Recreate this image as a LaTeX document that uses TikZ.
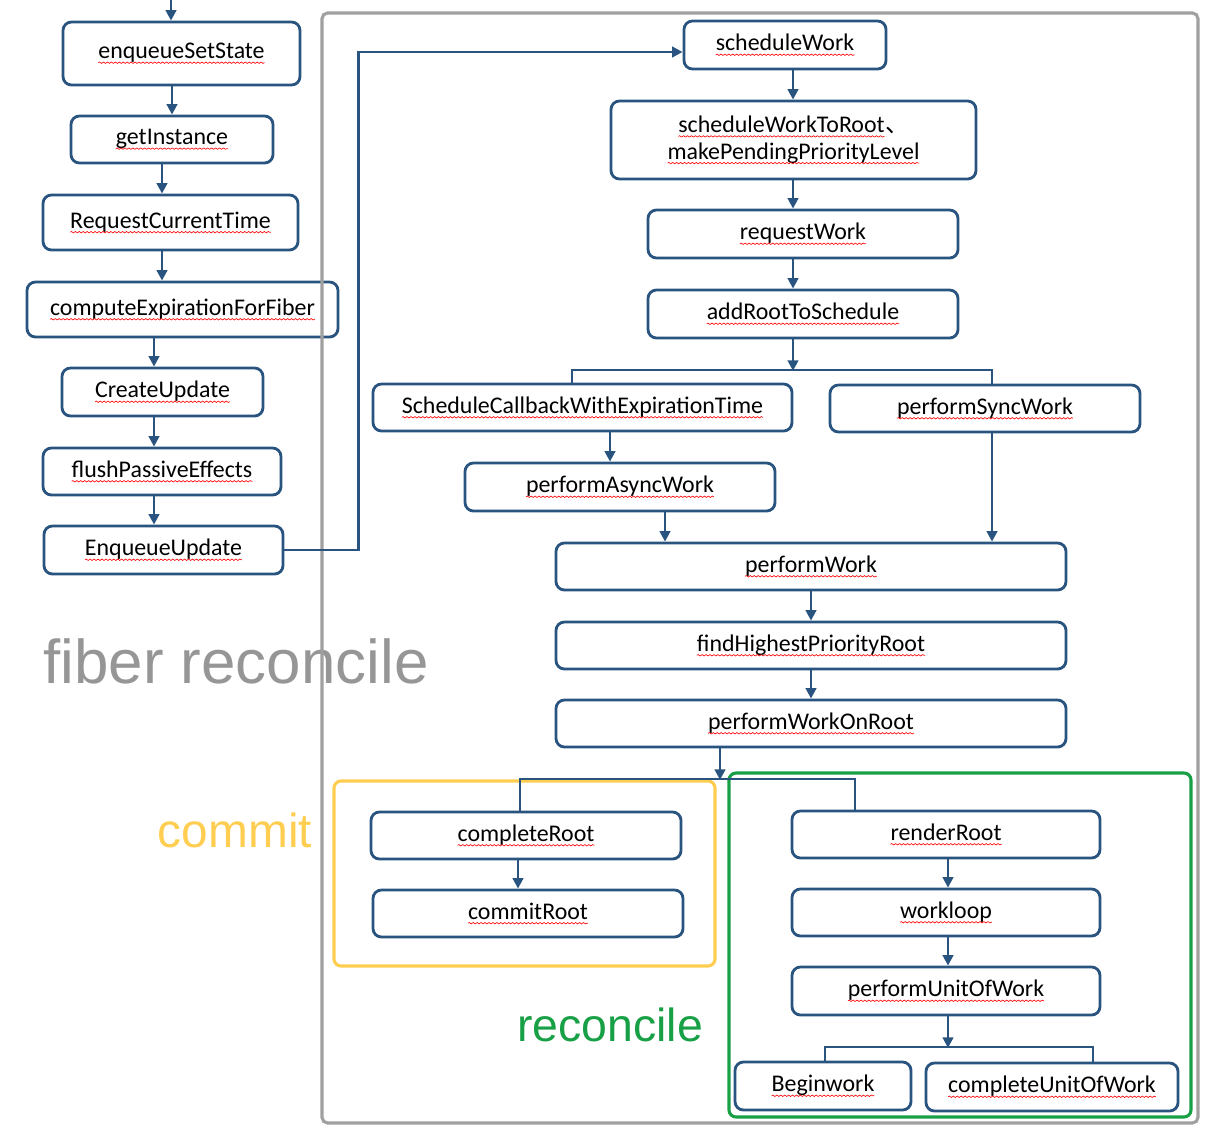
\documentclass[tikz,border=0pt]{standalone}
\usepackage{fontspec}
\setmainfont{Carlito}
\newfontfamily\labfont{Liberation Sans}
\newfontfamily\cjk{Noto Sans CJK SC}
\usetikzlibrary{arrows.meta,decorations.pathmorphing}
\definecolor{bx}{RGB}{42,84,128}
\definecolor{framegray}{RGB}{160,160,160}
\definecolor{labgray}{RGB}{150,150,150}
\definecolor{ylw}{RGB}{255,205,80}
\definecolor{grn}{RGB}{24,160,70}
\newcommand\wv[1]{\tikz[x=1cm,y=1cm,sharp corners,baseline=(w.base)]{\node[inner sep=0pt,outer sep=0pt,anchor=base,minimum size=0pt,draw=none,fill=none,text=black] (w) {#1};\draw[sharp corners,red,line width=0.45pt,decorate,decoration={snake,amplitude=0.5pt,segment length=2.8pt}] ([yshift=-2.8pt]w.base west) -- ([yshift=-2.8pt]w.base east);}}
\tikzset{
  box/.style={draw=bx, line width=2pt, rounded corners=6pt, fill=white, align=center, inner sep=0pt,
    font=\fontsize{17}{19}\selectfont},
  sz/.style 2 args={minimum width=#1*0.025cm, minimum height=#2*0.025cm},
  arr/.style={draw=bx, line width=2pt, -{Triangle[length=7.5pt,width=7.5pt]}},
  ln/.style={draw=bx, line width=2pt},
  grp/.style={line width=2.2pt, rounded corners=5pt},
}
\begin{document}
\begin{tikzpicture}[x=0.025cm,y=-0.025cm]
\useasboundingbox (0,0) rectangle (1207,1125);
% guides
\coordinate (top) at (171,0);
\coordinate (h52) at (0,52);
\coordinate (g162) at (162,0);
\coordinate (g154) at (154,0);
\coordinate (g793) at (793,0);
\coordinate (g572) at (572,0);
\coordinate (g992) at (992,0);
\coordinate (g610) at (610,0);
\coordinate (g665) at (665,0);
\coordinate (g720) at (720,0);
\coordinate (g520) at (520,0);
\coordinate (g855) at (855,0);
\coordinate (g518) at (518,0);
\coordinate (g948) at (948,0);
\coordinate (g825) at (825,0);
\coordinate (g1093) at (1093,0);
\coordinate (bar1) at (0,370);
\coordinate (bar2) at (0,779);
\coordinate (bar3) at (0,1047);

% group boxes
\draw[grp, draw=ylw] (334,781) rectangle (715,966);
\draw[grp, draw=grn] (729,773) rectangle (1191,1117);

% left column
\node[box, sz={237}{63}] (esst) at (181.5,53.5) {\wv{enqueueSetState}};
\node[box, sz={202}{47}] (gi) at (172,139.5) {\wv{getInstance}};
\node[box, sz={255}{55}] (rct) at (170.5,222.5) {\wv{RequestCurrentTime}};
\node[box, sz={311}{55}] (cef) at (182.5,309.5) {\wv{computeExpirationForFiber}};
\node[box, sz={201}{48}] (cu) at (162.5,392) {\wv{CreateUpdate}};
\node[box, sz={238}{47}] (fpe) at (162,471.5) {\wv{flushPassiveEffects}};
\node[box, sz={239}{48}] (eu) at (163.5,550) {\wv{EnqueueUpdate}};

\node[font=\labfont\fontsize{44}{46}\selectfont, text=labgray, anchor=base, inner sep=0pt] (lfr) at (236,683) {fiber reconcile};
\node[font=\labfont\fontsize{34}{36}\selectfont, text=ylw, anchor=base, inner sep=0pt] (lcm) at (235,847) {commit};
\node[font=\labfont\fontsize{33}{35}\selectfont, text=grn, anchor=base, inner sep=0pt] (lrc) at (610,1041) {reconcile};

% outer frame
\draw[framegray, line width=2.2pt, rounded corners=4pt] (322,13) rectangle (1198,1123);

% right column
\node[box, sz={202}{48}] (sw) at (785,45) {\wv{scheduleWork}};
\node[box, sz={365}{78}] (swr) at (793.5,140) {\wv{scheduleWorkToRoot}\cjk{、}\\\wv{makePendingPriorityLevel}};
\node[box, sz={310}{48}] (rw) at (803,234) {\wv{requestWork}};
\node[box, sz={310}{48}] (ars) at (803,314) {\wv{addRootToSchedule}};
\node[box, sz={419}{47}] (scb) at (582.5,407.5) {\wv{ScheduleCallbackWithExpirationTime}};
\node[box, sz={310}{47}] (psw) at (985,408.5) {\wv{performSyncWork}};
\node[box, sz={310}{48}] (paw) at (620,487) {\wv{performAsyncWork}};
\node[box, sz={510}{47}] (pw) at (811,566.5) {\wv{performWork}};
\node[box, sz={510}{47}] (fhp) at (811,645.5) {\wv{findHighestPriorityRoot}};
\node[box, sz={510}{47}] (pwr) at (811,723.5) {\wv{performWorkOnRoot}};
\node[box, sz={310}{47}] (cr) at (526,835.5) {\wv{completeRoot}};
\node[box, sz={310}{47}] (cmr) at (528,913.5) {\wv{commitRoot}};
\node[box, sz={308}{47}] (rr) at (946,834.5) {\wv{renderRoot}};
\node[box, sz={308}{47}] (wl) at (946,912.5) {\wv{workloop}};
\node[box, sz={308}{48}] (puw) at (946,991) {\wv{performUnitOfWork}};
\node[box, sz={176}{48}] (bw) at (823,1086) {\wv{Beginwork}};
\node[box, sz={252}{48}] (cuw) at (1052,1087) {\wv{completeUnitOfWork}};

% left connectors
\draw[arr] (top) -- (esst.north -| top);
\draw[arr] (esst.south -| gi.north) -- (gi.north);
\draw[arr] (gi.south -| g162) -- (rct.north -| g162);
\draw[arr] (rct.south -| g162) -- (cef.north -| g162);
\draw[arr] (cef.south -| g154) -- (cu.north -| g154);
\draw[arr] (cu.south -| g154) -- (fpe.north -| g154);
\draw[arr] (fpe.south -| g154) -- (eu.north -| g154);
\draw[arr] (eu.east) -- ++(74,0) |- (sw.west |- h52);

% right connectors
\draw[arr] (sw.south -| g793) -- (swr.north -| g793);
\draw[arr] (swr.south -| g793) -- (rw.north -| g793);
\draw[arr] (rw.south -| g793) -- (ars.north -| g793);
\draw[arr] (ars.south -| g793) -- ([yshift=-0.6pt]bar1 -| g793);
\draw[ln] (scb.north -| g572) |- (bar1 -| g992) -- (psw.north -| g992);
\draw[arr] (scb.south -| g610) -- (paw.north -| g610);
\draw[arr] (paw.south -| g665) -- (pw.north -| g665);
\draw[arr] (psw.south -| g992) -- (pw.north -| g992);
\draw[arr] (pw.south) -- (fhp.north);
\draw[arr] (fhp.south) -- (pwr.north);
\draw[arr] (pwr.south -| g720) -- ([yshift=-0.6pt]bar2 -| g720);
\draw[ln] (cr.north -| g520) |- (bar2 -| g855) -- (rr.north -| g855);
\draw[arr] (cr.south -| g518) -- (cmr.north -| g518);
\draw[arr] (rr.south -| g948) -- (wl.north -| g948);
\draw[arr] (wl.south -| g948) -- (puw.north -| g948);
\draw[arr] (puw.south -| g948) -- ([yshift=-0.6pt]bar3 -| g948);
\draw[ln] (bw.north -| g825) |- (bar3 -| g1093) -- (cuw.north -| g1093);
\end{tikzpicture}
\end{document}
